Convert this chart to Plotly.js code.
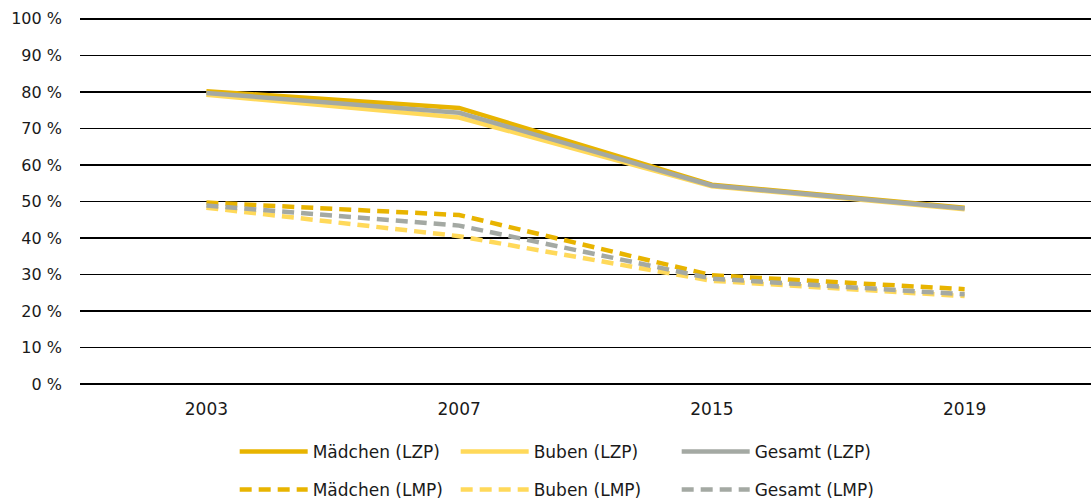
<!DOCTYPE html>
<html>
<head>
<meta charset="utf-8">
<script src="https://cdn.plot.ly/plotly-3.0.1.min.js"></script>
<style>html,body{margin:0;padding:0;background:#fff;}#chart{width:1091px;height:500px;}</style>
</head>
<body>
<div id="chart"></div>
<script>
const years = ['2003', '2007', '2015', '2019'];
const maedchenLZP = [80.2, 75.6, 54.6, 48.3];
const bubenLZP    = [79.2, 73.0, 54.2, 47.9];
const gesamtLZP   = [79.7, 74.3, 54.4, 48.1];
const maedchenLMP = [49.7, 46.3, 29.8, 26.0];
const bubenLMP    = [48.3, 40.5, 28.3, 24.1];
const gesamtLMP   = [48.9, 43.4, 28.9, 24.6];
const yTicks = [0,10,20,30,40,50,60,70,80,90,100];
const yTickLabels = yTicks.map(v => v + ' %');

const cGold = '#E8B400';
const cYellow = '#FFD95A';
const cGray = '#A4A9A3';
const FONT = 'DejaVu Sans, sans-serif';

function tr(name, y, color, dash, legend) {
  return {
    type: 'scatter', mode: 'lines', x: years, y: y, name: name,
    line: {color: color, width: 4.5, dash: dash},
    legend: legend, hoverinfo: 'skip'
  };
}
const dash = '12px,7px';
const data = [
  tr('Mädchen (LZP)', maedchenLZP, cGold, 'solid', 'legend'),
  tr('Buben (LZP)', bubenLZP, cYellow, 'solid', 'legend'),
  tr('Gesamt (LZP)', gesamtLZP, cGray, 'solid', 'legend'),
  tr('Mädchen (LMP)', maedchenLMP, cGold, dash, 'legend2'),
  tr('Buben (LMP)', bubenLMP, cYellow, dash, 'legend2'),
  tr('Gesamt (LMP)', gesamtLMP, cGray, dash, 'legend2')
];

const legendCommon = {
  orientation: 'h', x: 0.153, xanchor: 'left', yanchor: 'middle', yref: 'container',
  entrywidth: 138, entrywidthmode: 'pixels', traceorder: 'normal',
  font: {family: FONT, size: 17, color: '#1a1a1a'},
  bgcolor: 'rgba(0,0,0,0)', itemwidth: 68
};

const layout = {
  width: 1091, height: 500,
  margin: {l: 80, r: 0, t: 17, b: 114, autoexpand: false},
  paper_bgcolor: '#fff', plot_bgcolor: '#fff',
  font: {family: FONT, size: 17, color: '#1a1a1a'},
  showlegend: true,
  xaxis: {
    type: 'category', range: [-0.5, 3.5], showgrid: false, zeroline: false,
    showline: false, ticks: '', ticklabelstandoff: 11, fixedrange: true, automargin: false,
    tickfont: {family: FONT, size: 17, color: '#1a1a1a'}
  },
  yaxis: {
    range: [-0.5, 100.5], tickvals: yTicks, ticktext: yTickLabels,
    showgrid: true, gridcolor: '#000', gridwidth: 1.5, automargin: false,
    zeroline: false, showline: false, ticks: '', ticklabelstandoff: 17, fixedrange: true,
    tickfont: {family: FONT, size: 16, color: '#1a1a1a'}
  },
  legend: Object.assign({}, legendCommon, {y: 0.096}),
  legend2: Object.assign({}, legendCommon, {y: 0.02})
};

Plotly.newPlot('chart', data, layout, {displayModeBar: false, staticPlot: true});
</script>
</body>
</html>
